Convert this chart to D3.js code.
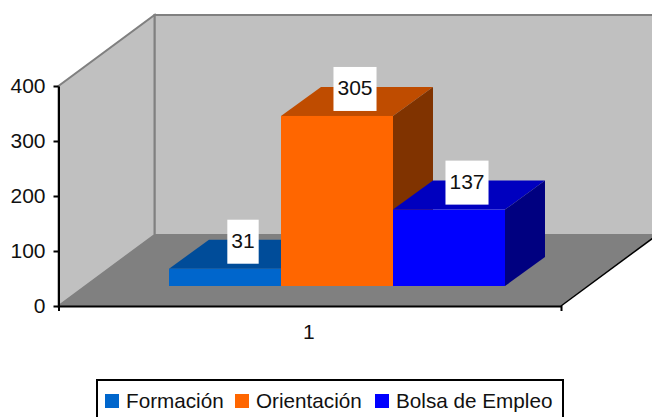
<!DOCTYPE html>
<html>
<head>
	<meta charset="utf-8" />
	<style>
		body {
			margin: 0;
			background-color: #fff;
			overflow: hidden;
		}
		svg {
			display: block;
		}
		text {
			font-family: "Liberation Sans", Arial, sans-serif;
			font-size: 21px;
			fill: #111;
		}
		.legend-item text {
			font-size: 20.7px;
		}
	</style>
</head>
<body>
	<div id="chart-area"></div>

	<script src="https://d3js.org/d3.v7.min.js"></script>
	<script>
		const seriesNames = ['Formación', 'Orientación', 'Bolsa de Empleo'];
		const seriesValues = [31, 305, 137];
		const categories = ['1'];
		const yTicks = [0, 100, 200, 300, 400];

		const frontColors = ['#0066cc', '#ff6600', '#0000ff'];
		const topColors = ['#004c99', '#bf4c00', '#0000bf'];
		const sideColors = ['#003366', '#803300', '#000080'];

		const width = 652, height = 417;

		// oblique offset of the chart box (front to back wall) and of the bars
		const wallDx = 96, wallDy = -71;
		const barDx = 40, barDy = -29;
		const barBase = 286;

		const svg = d3.select('#chart-area').append('svg')
			.attr('width', width)
			.attr('height', height);

		const x = d3.scaleBand().domain(categories).range([58.5, 561]);
		const y = d3.scaleLinear().domain([0, 400]).range([306, 86]);
		const barX = d3.scaleBand().domain(seriesNames).range([169, 505]);
		const barHeight = d3.scaleLinear().domain([0, 400]).range([0, 223]);

		const poly = pts => pts.map(p => p.join(',')).join(' ');

		const x0 = x.range()[0], x1 = x.range()[1];
		const yBottom = y(0), yTop = y(400);

		// walls and floor
		svg.append('polygon')
			.attr('points', poly([
				[x0 + wallDx, yTop + wallDy],
				[x1 + wallDx, yTop + wallDy],
				[x1 + wallDx, yBottom + wallDy],
				[x0 + wallDx, yBottom + wallDy],
			]))
			.attr('fill', '#c0c0c0')
			.attr('stroke', '#808080')
			.attr('stroke-width', 2);

		svg.append('polygon')
			.attr('points', poly([
				[x0, yBottom],
				[x0, yTop],
				[x0 + wallDx, yTop + wallDy],
				[x0 + wallDx, yBottom + wallDy],
			]))
			.attr('fill', '#c0c0c0')
			.attr('stroke', '#808080')
			.attr('stroke-width', 2);

		svg.append('polygon')
			.attr('points', poly([
				[x0, yBottom],
				[x0 + wallDx, yBottom + wallDy],
				[x1 + wallDx, yBottom + wallDy],
				[x1, yBottom],
			]))
			.attr('fill', '#808080');

		svg.append('line')
			.attr('x1', x1).attr('y1', yBottom)
			.attr('x2', x1 + wallDx).attr('y2', yBottom + wallDy)
			.attr('stroke', '#000')
			.attr('stroke-width', 1.5);

		// bars
		const bars = svg.selectAll('.bar')
			.data(seriesNames.map((name, i) => ({ name, value: seriesValues[i], i })))
			.join('g')
			.attr('class', 'bar');

		bars.append('polygon')
			.attr('fill', d => topColors[d.i])
			.attr('points', d => {
				const l = barX(d.name), r = l + barX.bandwidth(), t = barBase - barHeight(d.value);
				return poly([[l, t], [l + barDx, t + barDy], [r + barDx, t + barDy], [r, t]]);
			});

		bars.append('polygon')
			.attr('fill', d => sideColors[d.i])
			.attr('points', d => {
				const r = barX(d.name) + barX.bandwidth(), t = barBase - barHeight(d.value);
				return poly([[r, t], [r + barDx, t + barDy], [r + barDx, barBase + barDy], [r, barBase]]);
			});

		bars.append('rect')
			.attr('fill', d => frontColors[d.i])
			.attr('x', d => barX(d.name))
			.attr('y', d => barBase - barHeight(d.value))
			.attr('width', barX.bandwidth())
			.attr('height', d => barHeight(d.value));

		// axes
		const yAxis = d3.axisLeft(y).tickValues(yTicks).tickSize(5).tickSizeOuter(0).tickPadding(8);
		const xAxis = d3.axisBottom(x).tickSize(0).tickSizeOuter(5).tickPadding(18);

		const axisStyle = g => {
			g.selectAll('path, line').attr('stroke', '#000').attr('stroke-width', 2);
			g.selectAll('text').style('font-size', '21px').attr('fill', '#111');
		};

		svg.append('g')
			.attr('transform', `translate(${x0},0)`)
			.call(yAxis)
			.call(axisStyle);

		svg.append('g')
			.attr('transform', `translate(0,${yBottom})`)
			.call(xAxis)
			.call(axisStyle)
			.selectAll('text')
			.attr('dx', -1);

		// data labels
		const labels = svg.selectAll('.value-label')
			.data(seriesNames.map((name, i) => ({ name, value: seriesValues[i] })))
			.join('g')
			.attr('class', 'value-label')
			.attr('transform', d => {
				const cx = barX(d.name) + barX.bandwidth() / 2 + 18;
				const cy = barBase - barHeight(d.value) - 27;
				return `translate(${cx},${cy})`;
			});

		const labelText = labels.append('text')
			.attr('text-anchor', 'middle')
			.attr('dy', '0.3em')
			.text(d => d.value);

		labelText.each(function () {
			const w = this.getComputedTextLength() + 8;
			d3.select(this.parentNode).insert('rect', 'text')
				.attr('x', -w / 2)
				.attr('y', -22)
				.attr('width', w)
				.attr('height', 44)
				.attr('fill', '#fff');
		});

		// legend
		svg.append('rect')
			.attr('x', 97)
			.attr('y', 380)
			.attr('width', 466)
			.attr('height', 40)
			.attr('fill', '#fff')
			.attr('stroke', '#000')
			.attr('stroke-width', 2);

		const legendX = d3.scaleOrdinal().domain(seriesNames).range([105, 235, 375]);

		const legend = svg.selectAll('.legend-item')
			.data(seriesNames)
			.join('g')
			.attr('class', 'legend-item')
			.attr('transform', d => `translate(${legendX(d)},394)`);

		legend.append('rect')
			.attr('width', 14)
			.attr('height', 14)
			.attr('fill', (d, i) => frontColors[i]);

		legend.append('text')
			.attr('x', 21)
			.attr('y', 14)
			.text(d => d);
	</script>
</body>
</html>
